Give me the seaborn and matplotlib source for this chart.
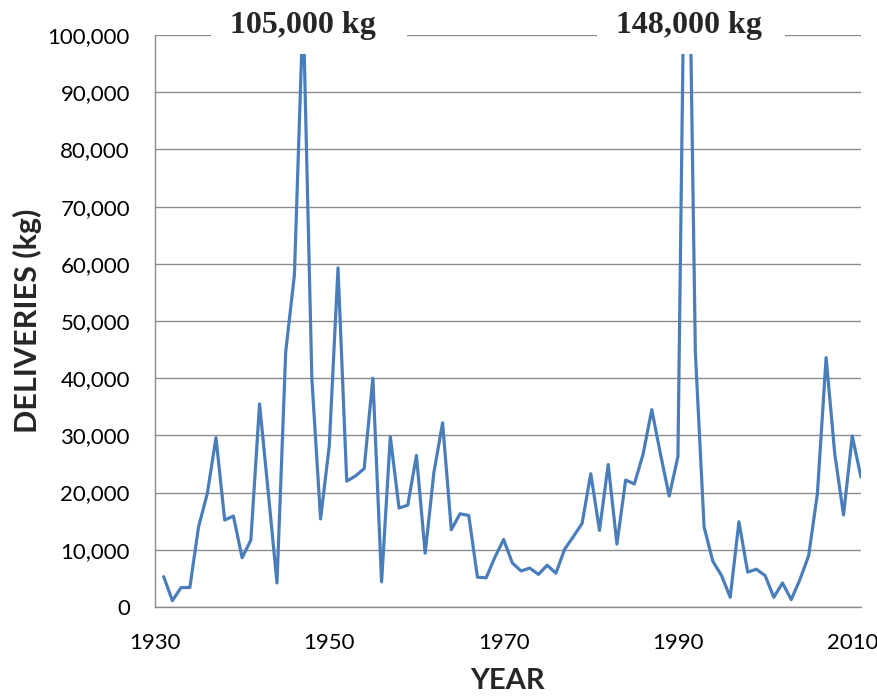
import numpy as np
import pandas as pd
import matplotlib.pyplot as plt
import seaborn as sns
from matplotlib.patches import Rectangle
from matplotlib.ticker import FuncFormatter

# yearly deliveries, 1931-2011 (kg); the two big peaks go off the chart
years = list(range(1931, 2012))
deliveries = [
    5300, 1100, 3400, 3400, 14000, 19800, 29600, 15200, 15900, 8600,
    11700, 35500, 20000, 4200, 44600, 58100, 105000, 39900, 15400, 28200,
    59300, 22000, 22900, 24200, 40000, 4400, 29800, 17300, 17800, 26500,
    9400, 23500, 32200, 13500, 16300, 16000, 5200, 5100, 8700, 11800,
    7700, 6300, 6800, 5700, 7300, 5900, 10100, 12300, 14600, 23300,
    13400, 24900, 11000, 22200, 21500, 26700, 34500, 26700, 19400, 26300,
    148000, 44500, 14000, 8000, 5500, 1700, 14900, 6100, 6600, 5500,
    1700, 4200, 1300, 4800, 9000, 19800, 43600, 26700, 16100, 29900,
    22700,
]
peak_labels = ['105,000 kg', '148,000 kg']
x_ticks = [1930, 1950, 1970, 1990, 2010]
y_ticks = list(range(0, 100001, 10000))

df = pd.DataFrame({'Year': years, 'Deliveries': deliveries})

sns.set_style('white')
plt.rcParams['font.family'] = ['Lato', 'DejaVu Sans']

fig = plt.figure(figsize=(8.78, 6.96), dpi=100)
ax = fig.add_axes([0.1765, 0.1279, 0.8041, 0.8218])

sns.lineplot(data=df, x='Year', y='Deliveries', ax=ax,
             color='#4a7ebb', linewidth=2.3, zorder=3)

ax.set_xlim(1930, 2011)
ax.set_ylim(0, 100000)
ax.set_xticks(x_ticks)
ax.set_yticks(y_ticks)
ax.yaxis.set_major_formatter(FuncFormatter(lambda v, p: f'{int(v):,}'))
ax.grid(axis='y', color='#8c8c8c', linewidth=1.0)
ax.grid(axis='x', visible=False)
ax.set_axisbelow(True)

for side in ['top', 'right']:
    ax.spines[side].set_visible(False)
for side in ['left', 'bottom']:
    ax.spines[side].set_color('#8c8c8c')
    ax.spines[side].set_linewidth(1.0)

ax.tick_params(axis='both', which='major', direction='out', width=1.0,
               color='#8c8c8c', labelsize=16, labelcolor='black')
ax.tick_params(axis='x', length=5.8, pad=13)
ax.tick_params(axis='y', length=5.0, pad=13)

ax.set_xlabel('YEAR', fontsize=21, fontweight='bold')
ax.xaxis.set_label_coords(0.5, -0.1294)
ax.xaxis.label.set_va('center')
ax.set_ylabel('DELIVERIES (kg)', fontsize=22, fontweight='bold')
ax.yaxis.set_label_coords(-0.18, 0.5)
ax.yaxis.label.set_va('center')

# white label boxes hiding the peak tops and the top gridline
boxes = [(0.079, 0.357), (0.626, 0.892)]
label_x = [0.210, 0.757]
for (x0, x1), lx, label in zip(boxes, label_x, peak_labels):
    ax.add_patch(Rectangle((x0, 0.966), x1 - x0, 0.2, transform=ax.transAxes,
                           facecolor='white', edgecolor='none',
                           clip_on=False, zorder=5))
    ax.text(lx, 1.0035, label, transform=ax.transAxes,
            ha='center', va='baseline', fontsize=23, fontweight='bold',
            family='Liberation Serif', zorder=6)

fig.savefig('out.png', dpi=100)
